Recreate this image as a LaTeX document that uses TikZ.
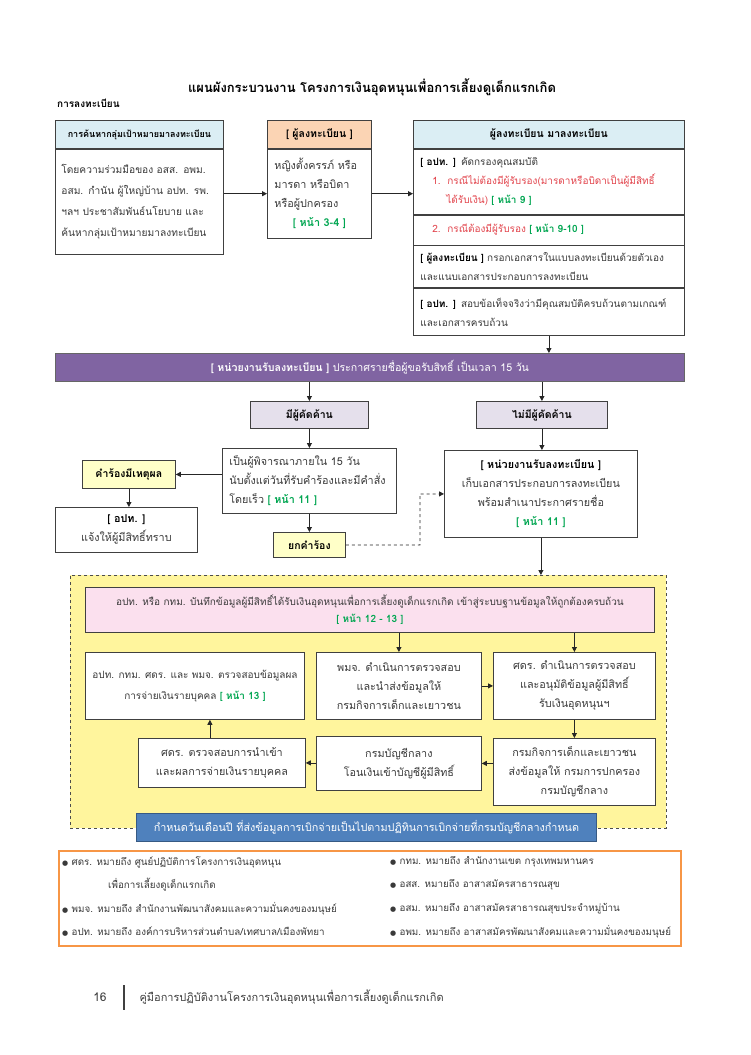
\documentclass[tikz,border=0pt]{standalone}
\usepackage{fontspec}
\setmainfont[Script=Thai]{Loma}
\newfontfamily\dotfont{DejaVu Sans}
\usetikzlibrary{positioning,arrows.meta}

\definecolor{headblue}{HTML}{DBEEF4}
\definecolor{headorange}{HTML}{FBD4B4}
\definecolor{barpurple}{HTML}{8064A2}
\definecolor{lavender}{HTML}{E5E0EC}
\definecolor{paleyellow}{HTML}{FFFFC8}
\definecolor{areayellow}{HTML}{FFF59D}
\definecolor{pinkbox}{HTML}{FBE0EE}
\definecolor{barblue}{HTML}{4F81BD}
\definecolor{legendorange}{HTML}{F79646}
\definecolor{pagegreen}{HTML}{00A651}
\definecolor{casered}{HTML}{E2434B}
\definecolor{bodygray}{HTML}{3A3A3A}

\newcommand{\pg}[1]{{\color{pagegreen}\bfseries [ #1 ]}}
\newcommand{\who}[1]{{\color{black}\bfseries [ #1 ]}}
\newcommand{\dotitem}{{\dotfont\fontsize{7}{7}\selectfont ●}\ }

\tikzset{
  box/.style={draw=black!75, line width=0.8pt, fill=white, inner xsep=7pt, inner ysep=0pt,
    text=bodygray, font=\fontsize{10.8}{19}\selectfont},
  headbox/.style={box, font=\fontsize{10.5}{19}\selectfont\bfseries, text=black},
  smallbox/.style={box, font=\fontsize{10}{19}\selectfont},
  legendtext/.style={anchor=west, inner sep=0pt, text=bodygray, font=\fontsize{9.8}{12}\selectfont},
  link/.style={draw=black!85, line width=0.8pt, -{Triangle[length=5pt,width=5pt]}},
}

\begin{document}
\begin{tikzpicture}[x=1pt,y=-1pt]
  \useasboundingbox (0,0) rectangle (750,1055);
  \fill[white] (0,0) rectangle (750,1055);

  \node[font=\fontsize{13}{16}\selectfont\bfseries] (title) at (372,87) {แผนผังกระบวนงาน โครงการเงินอุดหนุนเพื่อการเลี้ยงดูเด็กแรกเกิด};
  \node[font=\fontsize{10}{11}\selectfont\bfseries, anchor=west, inner sep=0pt] (section) at (57,103) {การลงทะเบียน};

  % registration
  \node[headbox, fill=headblue, anchor=north west, minimum width=168pt, minimum height=28pt, font=\fontsize{9}{19}\selectfont\bfseries] (findhead) at (55,120) {การค้นหากลุ่มเป้าหมายมาลงทะเบียน};
  \node[box, anchor=north, minimum height=105pt, text width=156pt, inner xsep=6pt, align=left, font=\fontsize{10.2}{21}\selectfont] (find) at (findhead.south) {โดยความร่วมมือของ อสส. อพม.\\ อสม. กำนัน ผู้ใหญ่บ้าน อปท. รพ.\\ ฯลฯ ประชาสัมพันธ์นโยบาย และ\\ ค้นหากลุ่มเป้าหมายมาลงทะเบียน};

  \node[headbox, fill=headorange, anchor=north west, minimum width=104pt, minimum height=28pt] (momhead) at (267,120) {[ ผู้ลงทะเบียน ]};
  \node[box, anchor=north, minimum height=89pt, text width=90pt, align=left] (mom) at (momhead.south) {หญิงตั้งครรภ์ หรือ\\ มารดา หรือบิดา\\ หรือผู้ปกครอง\\ \makebox[90pt]{\pg{หน้า 3-4}}};

  \node[headbox, fill=headblue, anchor=north west, minimum width=271pt, minimum height=28pt] (reghead) at (413,120) {ผู้ลงทะเบียน มาลงทะเบียน};
  \node[smallbox, anchor=north, minimum height=65pt, text width=257pt, align=left] (screen) at (reghead.south) {\who{อปท.} คัดกรองคุณสมบัติ\\ \hspace*{12pt}{\color{casered}1.\ \ กรณีไม่ต้องมีผู้รับรอง(มารดาหรือบิดาเป็นผู้มีสิทธิ์}\\ \hspace*{26pt}{\color{casered}ได้รับเงิน)} \pg{หน้า 9}};
  \node[smallbox, anchor=north, minimum height=30pt, text width=257pt, align=left] (certify) at (screen.south) {\hspace*{12pt}{\color{casered}2.\ \ กรณีต้องมีผู้รับรอง} \pg{หน้า 9-10}};
  \node[smallbox, anchor=north, minimum height=42pt, text width=257pt, align=left] (fillform) at (certify.south) {\who{ผู้ลงทะเบียน} กรอกเอกสารในแบบลงทะเบียนด้วยตัวเอง\\ และแนบเอกสารประกอบการลงทะเบียน};
  \node[smallbox, anchor=north, minimum height=47pt, text width=257pt, align=left] (verify) at (fillform.south) {\who{อปท.} สอบข้อเท็จจริงว่ามีคุณสมบัติครบถ้วนตามเกณฑ์\\ และเอกสารครบถ้วน};

  \node[box, fill=barpurple, draw=black!60, text=white, anchor=north west, minimum width=629pt, minimum height=28pt, font=\fontsize{10.6}{19}\selectfont] (announce) at (55,353) {{\bfseries [ หน่วยงานรับลงทะเบียน ]} ประกาศรายชื่อผู้ขอรับสิทธิ์ เป็นเวลา 15 วัน};

  % objection
  \node[headbox, fill=lavender, anchor=north west, minimum width=118pt, minimum height=27pt] (objection) at (250,401) {มีผู้คัดค้าน};
  \node[headbox, fill=lavender, anchor=north west, minimum width=131pt, minimum height=27pt] (noobjection) at (476,401) {ไม่มีผู้คัดค้าน};
  \node[box, anchor=north west, minimum height=65pt, text width=160pt, align=left] (consider) at (222,448) {เป็นผู้พิจารณาภายใน 15 วัน\\ นับตั้งแต่วันที่รับคำร้องและมีคำสั่ง\\ โดยเร็ว \pg{หน้า 11}};
  \node[headbox, fill=paleyellow, anchor=north west, minimum width=93pt, minimum height=28pt] (reasonable) at (82,460) {คำร้องมีเหตุผล};
  \node[box, anchor=north west, minimum width=142pt, minimum height=45pt, align=center] (inform) at (55,507) {\who{อปท.}\\ แจ้งให้ผู้มีสิทธิ์ทราบ};
  \node[headbox, fill=paleyellow, anchor=north west, minimum width=72pt, minimum height=25pt] (dismiss) at (273,532) {ยกคำร้อง};
  \node[box, anchor=north west, minimum width=193pt, minimum height=87pt, align=center] (keep) at (444,450) {\who{หน่วยงานรับลงทะเบียน}\\ เก็บเอกสารประกอบการลงทะเบียน\\ พร้อมสำเนาประกาศรายชื่อ\\ \pg{หน้า 11}};
  \coordinate (bend) at (420,545);

  % payment
  \node[draw=black!70, dashed, line width=0.7pt, fill=areayellow, anchor=north west, minimum width=596pt, minimum height=253pt, inner sep=0pt] (payment) at (70,575) {};
  \node[box, fill=pinkbox, anchor=north west, minimum width=569pt, minimum height=45pt, align=center, font=\fontsize{10}{17}\selectfont] (record) at (85,587) {อปท. หรือ กทม. บันทึกข้อมูลผู้มีสิทธิ์ได้รับเงินอุดหนุนเพื่อการเลี้ยงดูเด็กแรกเกิด เข้าสู่ระบบฐานข้อมูลให้ถูกต้องครบถ้วน\\ \pg{หน้า 12 - 13}};
  \node[box, anchor=north west, minimum width=160pt, minimum height=67pt, align=center, font=\fontsize{10}{21}\selectfont] (checkpay) at (85,652) {อปท. กทม. ศดร. และ พมจ. ตรวจสอบข้อมูลผล\\ การจ่ายเงินรายบุคคล \pg{หน้า 13}};
  \node[box, anchor=north west, minimum width=165pt, minimum height=67pt, align=center] (pmj) at (316,652) {พมจ. ดำเนินการตรวจสอบ\\ และนำส่งข้อมูลให้\\ กรมกิจการเด็กและเยาวชน};
  \node[box, anchor=north west, minimum width=162pt, minimum height=67pt, align=center] (approve) at (493,652) {ศดร. ดำเนินการตรวจสอบ\\ และอนุมัติข้อมูลผู้มีสิทธิ์\\ รับเงินอุดหนุนฯ};
  \node[box, anchor=north west, minimum width=162pt, minimum height=67pt, align=center] (dcy) at (493,738) {กรมกิจการเด็กและเยาวชน\\ ส่งข้อมูลให้ กรมการปกครอง\\ กรมบัญชีกลาง};
  \node[box, anchor=north west, minimum width=165pt, minimum height=54pt, align=center] (transfer) at (316,736) {กรมบัญชีกลาง\\ โอนเงินเข้าบัญชีผู้มีสิทธิ์};
  \node[box, anchor=north west, minimum width=167pt, minimum height=49pt, align=center] (import) at (138,738) {ศดร. ตรวจสอบการนำเข้า\\ และผลการจ่ายเงินรายบุคคล};
  \node[box, fill=barblue, draw=barblue!70!black, text=white, anchor=north west, minimum width=460pt, minimum height=28pt, font=\fontsize{10.8}{19}\selectfont] (calendar) at (136,813) {กำหนดวันเดือนปี ที่ส่งข้อมูลการเบิกจ่ายเป็นไปตามปฏิทินการเบิกจ่ายที่กรมบัญชีกลางกำหนด};

  \draw[link] (find.east |- mom.west) -- (mom.west);
  \draw[link] (mom.east) -- (mom.east -| screen.west);
  \draw[link] (verify.south) -- (verify.south |- announce.north);
  \draw (objection.north |- announce.south) edge[link] (objection.north)
    (noobjection.north |- announce.south) edge[link] (noobjection.north);
  \draw[link] (objection.south) -- (consider.north);
  \draw[link] (consider.west |- reasonable.east) -- (reasonable.east);
  \draw[link] (reasonable.south) -- (reasonable.south |- inform.north);
  \draw[link] (consider.south) -- (dismiss.north);
  \draw[link] (noobjection.south) -- (noobjection.south |- keep.north);
  \draw[link, dashed] (dismiss.east) -- (bend) |- (keep.west);
  \draw[link] (keep.south) -- (keep.south |- payment.north);
  \draw[link] (pmj.north |- record.south) -- (pmj.north);
  \draw[link] (approve.north |- record.south) -- (approve.north);
  \draw[link] (pmj.east) -- (approve.west);
  \draw[link] (approve.south) -- (dcy.north);
  \draw[link] (dcy.west |- transfer.east) -- (transfer.east);
  \draw[link] (transfer.west |- import.east) -- (import.east);
  \draw[link] ([xshift=-12pt]import.north) -- ([xshift=-12pt]import.north |- checkpay.south);

  % legend
  \node[draw=legendorange, line width=1.6pt, anchor=north west, minimum width=622pt, minimum height=95pt, inner sep=0pt] (legend) at (58,850) {};
  \node[legendtext] (sdr) at (62,862) {\dotitem ศดร. หมายถึง ศูนย์ปฏิบัติการโครงการเงินอุดหนุน};
  \node[legendtext] (sdr2) at (108,885) {เพื่อการเลี้ยงดูเด็กแรกเกิด};
  \node[legendtext] (pmjnote) at (62,909) {\dotitem พมจ. หมายถึง สำนักงานพัฒนาสังคมและความมั่นคงของมนุษย์};
  \node[legendtext] (optnote) at (62,932) {\dotitem อปท. หมายถึง องค์การบริหารส่วนตำบล/เทศบาล/เมืองพัทยา};
  \node[legendtext] (bmanote) at (390,862) {\dotitem กทม. หมายถึง สำนักงานเขต กรุงเทพมหานคร};
  \node[legendtext] (ossnote) at (390,885) {\dotitem อสส. หมายถึง อาสาสมัครสาธารณสุข};
  \node[legendtext] (osmnote) at (390,909) {\dotitem อสม. หมายถึง อาสาสมัครสาธารณสุขประจำหมู่บ้าน};
  \node[legendtext] (opmnote) at (390,932) {\dotitem อพม. หมายถึง อาสาสมัครพัฒนาสังคมและความมั่นคงของมนุษย์};

  % footer
  \node[font=\fontsize{12}{14}\selectfont, text=black!75] (pagenum) at (100,997) {16};
  \draw[line width=1.5pt, black!75] (124,985) -- (124,1010);
  \node[anchor=west, font=\fontsize{11}{13}\selectfont, text=black!75] (booktitle) at (136,997) {คู่มือการปฏิบัติงานโครงการเงินอุดหนุนเพื่อการเลี้ยงดูเด็กแรกเกิด};
\end{tikzpicture}
\end{document}
